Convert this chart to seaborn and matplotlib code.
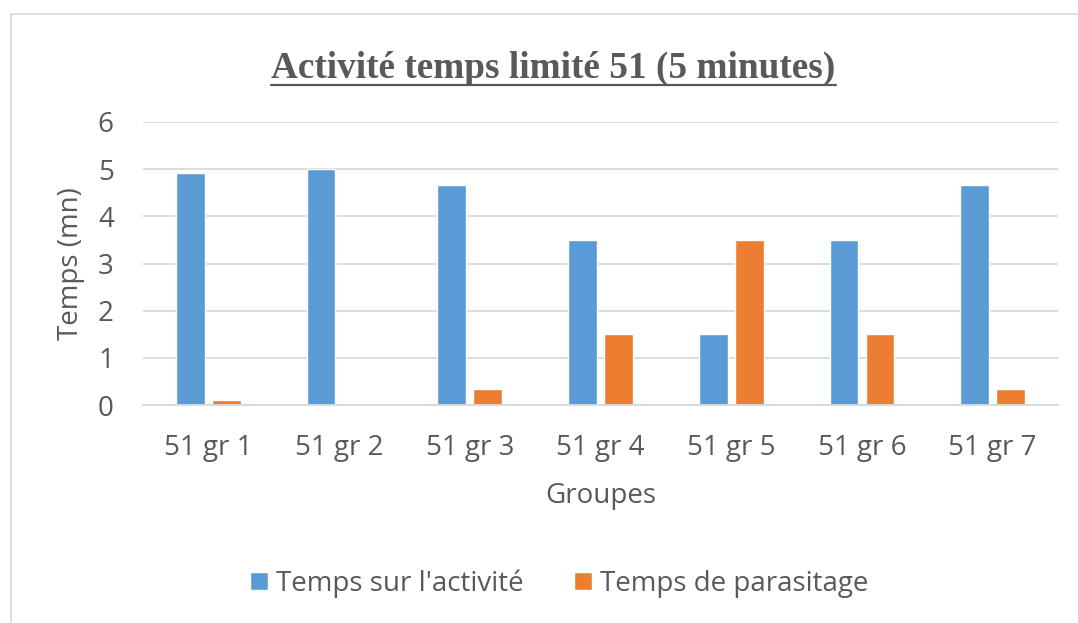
import matplotlib
matplotlib.use("Agg")
import matplotlib.pyplot as plt
from matplotlib.lines import Line2D
import seaborn as sns
import pandas as pd

categories = ["51 gr 1", "51 gr 2", "51 gr 3", "51 gr 4", "51 gr 5", "51 gr 6", "51 gr 7"]
temps_activite = [4.92, 5.0, 4.67, 3.5, 1.5, 3.5, 4.67]
temps_parasitage = [0.1, 0.0, 0.33, 1.5, 3.5, 1.5, 0.33]
series_names = ["Temps sur l'activité", "Temps de parasitage"]
yticks = [0, 1, 2, 3, 4, 5, 6]

df = pd.DataFrame({
    "Groupe": categories * 2,
    "Temps": temps_activite + temps_parasitage,
    "Série": [series_names[0]] * len(categories) + [series_names[1]] * len(categories),
})

sns.set_theme(style="white")
plt.rcParams['font.family'] = ['Open Sans', 'DejaVu Sans']
gray = "#595959"
fs = 20

fig = plt.figure(figsize=(10.78, 6.23), dpi=100)
ax = fig.add_axes([143/1078, 1 - 405/623, (1058-143)/1078, (405-122)/623])

sns.barplot(data=df, x="Groupe", y="Temps", hue="Série", order=categories,
            hue_order=series_names, palette=["#5B9BD5", "#ED7D31"],
            width=0.55, gap=0.2, ax=ax, saturation=1, legend=True)

ax.set_ylim(0, 6)
ax.set_yticks(yticks)
ax.yaxis.grid(True, color="#D9D9D9", linewidth=1.3)
ax.set_axisbelow(True)
for s in ["top", "right", "left"]:
    ax.spines[s].set_visible(False)
ax.spines["bottom"].set_color("#D9D9D9")
ax.spines["bottom"].set_linewidth(1.3)
ax.tick_params(axis="both", length=0, labelsize=fs, labelcolor=gray)
ax.tick_params(axis="y", pad=21)
ax.tick_params(axis="x", pad=21)
ax.set_xlabel("Groupes", fontsize=fs, color=gray, labelpad=14)
ax.set_ylabel("Temps (mn)", fontsize=fs, color=gray, labelpad=9)

leg = ax.legend(loc="center", bbox_to_anchor=((559 - 143)/915, -0.63), ncol=2, frameon=False,
                fontsize=fs, labelcolor=gray, handlelength=0.65, handleheight=0.65,
                handletextpad=0.29, columnspacing=1.8)

fig.text(553/1078, 1 - 78/623, "Activité temps limité 51 (5 minutes)", ha="center", va="baseline",
         fontsize=26.8, fontweight="bold", color=gray, family=["Liberation Serif"])
fig.add_artist(Line2D([271/1078, 836/1078], [1 - 85/623, 1 - 85/623], color=gray, linewidth=1.6,
                      transform=fig.transFigure))

fig.add_artist(Line2D([10.5/1078, 10.5/1078], [0, 1 - 14/623], color="#D9D9D9", linewidth=1.2,
                      transform=fig.transFigure))
fig.add_artist(Line2D([10.5/1078, 1], [1 - 14/623, 1 - 14/623], color="#D9D9D9", linewidth=1.2,
                      transform=fig.transFigure))

fig.savefig("out.png", dpi=100)
